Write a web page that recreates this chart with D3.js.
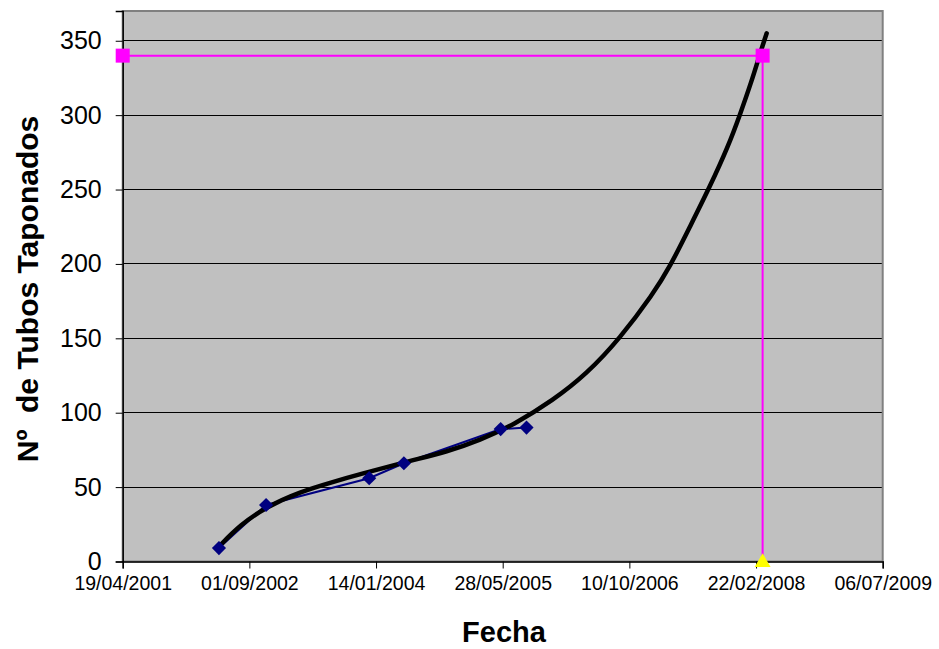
<!DOCTYPE html>
<html>
<head>
<meta charset="utf-8">
<script src="https://cdn.jsdelivr.net/npm/d3@7"></script>
<style>
  html, body { margin: 0; padding: 0; background: #ffffff; }
  svg { display: block; }
  text { font-family: Arial, "Liberation Sans", sans-serif; fill: #000; }
</style>
</head>
<body>
<svg id="chart" width="939" height="649"></svg>
<script>
// Inspection dates and cumulative plugged tubes
const fechas = ["2002-05-04", "2002-11-06", "2003-12-18", "2004-05-03", "2005-05-20", "2005-08-30"];
const tubos  = [9, 38, 56, 66, 89, 90];

// Polynomial trend line (sampled)
const trendFechas = ["2002-05-04", "2002-07-26", "2002-11-08", "2003-03-20", "2003-07-30", "2003-10-30",
                     "2004-06-09", "2004-10-19", "2005-02-27", "2005-07-09", "2005-12-14", "2006-04-24",
                     "2006-09-03", "2007-01-12", "2007-03-19", "2007-06-06", "2007-08-24", "2007-11-04",
                     "2007-12-20", "2008-02-05", "2008-03-08", "2008-04-04"];
const trendTubos  = [10, 24.5, 36.8, 46.9, 53.6, 58.1,
                     68.2, 73.7, 81.6, 91.7, 108.5, 126,
                     150, 180, 198, 225, 252, 279,
                     300, 323, 341, 355];

// Limit of plugged tubes and the date it is reached
const limiteFechas = ["2001-04-19", "2008-03-19"];
const limiteTubos  = [340, 340];
const alcanceFecha = "2008-03-19";
const alcanceTubos = 0;

// Axes
const xTickLabels = ["19/04/2001", "01/09/2002", "14/01/2004", "28/05/2005", "10/10/2006", "22/02/2008", "06/07/2009"];
const yTicks = [0, 50, 100, 150, 200, 250, 300, 350];
const yMax = 370;

const parseISO = d3.utcParse("%Y-%m-%d");
const parseTick = d3.utcParse("%d/%m/%Y");
const fmtTick = d3.utcFormat("%d/%m/%Y");

const svg = d3.select("#chart");
const plotLeft = 122.7, plotRight = 882.7, plotTop = 11, plotBottom = 561.5;

const xTicks = xTickLabels.map(parseTick);
const x = d3.scaleUtc().domain([xTicks[0], xTicks[xTicks.length - 1]]).range([plotLeft, plotRight]);
const y = d3.scaleLinear().domain([0, yMax]).range([plotBottom, plotTop]);

// Plot background
svg.append("rect")
  .attr("x", plotLeft).attr("y", plotTop)
  .attr("width", plotRight - plotLeft).attr("height", plotBottom - plotTop)
  .attr("fill", "#c0c0c0");

// Horizontal gridlines
svg.append("g").selectAll("line")
  .data(yTicks.filter(v => v > 0))
  .join("line")
  .attr("x1", plotLeft).attr("x2", plotRight)
  .attr("y1", d => y(d)).attr("y2", d => y(d))
  .attr("stroke", "#000").attr("stroke-width", 1)
  .attr("shape-rendering", "crispEdges");

// Plot border
svg.append("rect")
  .attr("x", plotLeft).attr("y", plotTop)
  .attr("width", plotRight - plotLeft).attr("height", plotBottom - plotTop)
  .attr("fill", "none").attr("stroke", "#808080").attr("stroke-width", 2);

// Y axis
const yAxis = d3.axisLeft(y).tickValues(yTicks).tickSize(7).tickPadding(14).tickFormat(d3.format("d"));
const gy = svg.append("g").attr("transform", `translate(${plotLeft},0)`).call(yAxis);
gy.select(".domain").attr("stroke", "#000").attr("stroke-width", 1.5);
gy.selectAll(".tick line").attr("stroke", "#000");
gy.selectAll(".tick text").attr("font-size", 25).attr("font-family", "Arial, 'Liberation Sans', sans-serif").attr("fill", "#000");

// X axis
const xAxis = d3.axisBottom(x).tickValues(xTicks).tickSize(7).tickPadding(8).tickFormat(fmtTick);
const gx = svg.append("g").attr("transform", `translate(0,${plotBottom})`).call(xAxis);
gx.select(".domain").attr("stroke", "#000").attr("stroke-width", 1.5);
gx.selectAll(".tick line").attr("stroke", "#000");
gx.selectAll(".tick text").attr("font-size", 19.5).attr("font-family", "Arial, 'Liberation Sans', sans-serif").attr("fill", "#000");

// Axis titles
svg.append("text")
  .attr("x", 504).attr("y", 642)
  .attr("text-anchor", "middle")
  .attr("font-size", 29).attr("font-weight", "bold")
  .text("Fecha");

svg.append("text")
  .attr("transform", `translate(38,289) rotate(-90)`)
  .attr("text-anchor", "middle")
  .attr("font-size", 30).attr("font-weight", "bold")
  .attr("xml:space", "preserve")
  .style("white-space", "pre")
  .text("Nº  de Tubos Taponados");

// Data series
const datos = fechas.map((f, i) => ({ x: parseISO(f), y: tubos[i] }));
const trend = trendFechas.map((f, i) => ({ x: parseISO(f), y: trendTubos[i] }));
const limite = limiteFechas.map((f, i) => ({ x: parseISO(f), y: limiteTubos[i] }));
const alcance = { x: parseISO(alcanceFecha), y: alcanceTubos };

const line = d3.line().x(d => x(d.x)).y(d => y(d.y));

// Limit lines (horizontal + vertical drop to the axis)
svg.append("path")
  .datum(limite)
  .attr("d", line)
  .attr("fill", "none").attr("stroke", "#ff00ff").attr("stroke-width", 2);
svg.append("path")
  .datum([limite[1], alcance])
  .attr("d", line)
  .attr("fill", "none").attr("stroke", "#ff00ff").attr("stroke-width", 2);

// Measured series
svg.append("path")
  .datum(datos)
  .attr("d", line)
  .attr("fill", "none").attr("stroke", "#000080").attr("stroke-width", 2);

// Trend line
svg.append("path")
  .datum(trend)
  .attr("d", d3.line().x(d => x(d.x)).y(d => y(d.y)).curve(d3.curveBasis))
  .attr("fill", "none").attr("stroke", "#000").attr("stroke-width", 4.5)
  .attr("stroke-linecap", "round").attr("stroke-linejoin", "round");

// Measured markers (diamonds)
const diamond = d3.symbol().type(d3.symbolSquare).size(100);
svg.append("g").selectAll("path")
  .data(datos)
  .join("path")
  .attr("d", diamond)
  .attr("transform", d => `translate(${x(d.x)},${y(d.y)}) rotate(45)`)
  .attr("fill", "#000080");

// Limit markers (squares)
svg.append("g").selectAll("rect")
  .data(limite)
  .join("rect")
  .attr("x", d => x(d.x) - 7).attr("y", d => y(d.y) - 7)
  .attr("width", 14).attr("height", 14)
  .attr("fill", "#ff00ff");

// Date reached marker (triangle)
svg.append("path")
  .attr("d", d3.symbol().type(d3.symbolTriangle).size(110))
  .attr("transform", `translate(${x(alcance.x)},${y(alcance.y) + 1})`)
  .attr("fill", "#ffff00");
</script>
</body>
</html>
